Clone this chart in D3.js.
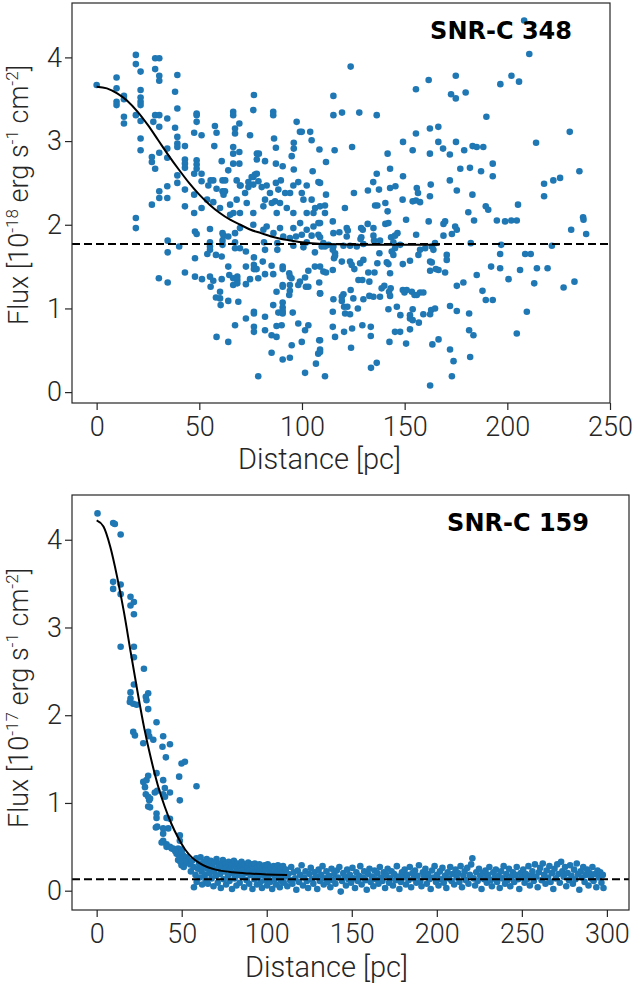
<!DOCTYPE html>
<html><head><meta charset="utf-8">
<script src="https://cdn.jsdelivr.net/npm/d3@7"></script>
<style>body{margin:0;background:#fff}svg{display:block}</style>
</head><body><svg id="c" width="635" height="985"></svg>
<script>
// ---------- DATA ----------
const xTicksTop = [0, 50, 100, 150, 200, 250];
const yTicksTop = [0, 1, 2, 3, 4];
const xTicksBot = [0, 50, 100, 150, 200, 250, 300];
const yTicksBot = [0, 1, 2, 3, 4];
const titleTop = "SNR-C 348";
const titleBot = "SNR-C 159";
const baselineTop = 1.77;
const baselineBot = 0.13;

// fitted profile
const fitTopX = [0,5,10,15,20,25,30,35,40,45,50,55,60,65,70,75,80,85,90,95,100,110,120,140,167];
const fitTopY = [3.65,3.63,3.57,3.48,3.35,3.19,3.01,2.83,2.66,2.50,2.36,2.24,2.14,2.06,2.00,1.94,1.90,1.86,1.83,1.81,1.79,1.77,1.765,1.76,1.76];
const fitBotX = [0,4,8,12,16,20,24,28,32,36,40,44,48,52,56,60,65,70,80,90,100,112];
const fitBotY = [4.22,4.15,3.92,3.58,3.18,2.72,2.27,1.85,1.50,1.20,0.96,0.76,0.60,0.47,0.38,0.32,0.27,0.24,0.21,0.195,0.185,0.18];

// SNR-C 348 points [distance, flux]
const pts348 = [
[0,3.67],[9.7,3.76],[9.7,3.63],[9.7,3.47],[9.7,3.43],[13.3,3.54],[13.3,3.50],[13.3,3.29],[13.3,3.21],[19.1,4.03],[19.1,3.92],[21.4,3.83],[21.4,3.61],[21.4,3.52],[21.4,3.47],[21.4,3.43],[19.1,3.31],[21.4,3.24],[21.4,3.03],[21.4,2.89],
[28.5,3.99],[30.5,3.99],[28.5,3.86],[30.5,3.78],[30.5,3.72],[28.5,3.31],[30.5,3.31],[27.6,3.23],[30.5,3.17],[26.9,2.81],[26.9,2.75],[28.5,2.67],[30.5,2.86],[34.4,3.27],[34.4,2.91],[34.4,2.80],[34.4,2.46],[34.4,2.32],
[38.2,3.59],[39.3,3.79],[39.3,3.39],[38.2,3.16],[39.3,3.05],[39.3,2.97],[39.3,2.93],[39.3,2.59],[39.3,2.50],[43,2.94],[43,2.78],[43,2.73],[43,2.68],[43,2.42],[43,2.22],[30.5,2.40],[30.5,2.32],[26.9,2.24],[19.1,2.08],
[48.7,3.33],[48.7,3.31],[48.7,3.23],[47.5,3.10],[51.1,3.07],[48.7,2.77],[48.7,2.72],[48.7,2.67],[47.5,2.61],[51.1,2.61],[51.1,2.52],[47.5,2.36],[51.1,2.20],[53.8,2.30],[47.5,2.14],
[57.6,3.18],[58.4,3.10],[57.3,2.94],[55.5,2.53],[58.4,2.43],[61.3,2.40],[61.3,2.53],[62.6,2.53],[61.8,2.36],[60.9,2.76],[56.8,2.27],[66.5,3.35],[66.5,3.31],[69.5,3.21],[67.4,3.15],[67.4,3.09],[74.7,3.07],
[66.5,2.93],[66.5,2.85],[69.5,2.87],[66.5,2.73],[69.5,2.73],[64.1,2.65],[68.2,2.53],[70.1,2.47],[76.6,3.55],[76.3,3.37],[78,2.85],[79,2.85],[78,2.78],[82,2.76],[86,3.35],[86,3.31],[86.4,3.03],[87.3,2.92],
[87.3,2.73],[90.6,2.70],[87.3,2.50],[89.7,2.53],[96,2.98],[96,2.91],[95,2.82],[97.4,3.23],[99,3.11],[99.9,3.11],[96,2.66],[104.7,3.01],[105.2,2.64],[108.5,2.90],[104,3.11],
[76.3,2.57],[77.1,2.60],[78.8,2.52],[73.9,2.51],
[54.4,2.47],[56.8,2.53],[62.5,2.40],[65.0,2.24],[66.6,2.14],[68.2,2.30],[69.8,2.47],[72.3,2.38],[73.9,2.45],[73.1,2.26],[75.5,2.57],[78.0,2.61],[76.3,2.48],[80.4,2.45],[82.8,2.47],[82.0,2.30],[84.4,2.38],
[86.9,2.28],[88.5,2.42],[89.3,2.26],[91.8,2.38],[94.2,2.38],[95.8,2.47],[98.2,2.51],[99.9,2.38],[100.7,2.30],[102.3,2.47],[104.7,2.30],[106.4,2.20],[108.0,2.51],[108.8,2.22],[105.6,2.14],[102.3,2.14],[95.8,2.14],
[92.6,2.20],[87.7,2.14],[85.3,2.26],[81.2,2.22],[76.3,2.14],[69.8,2.14],[65.0,2.12],[60.1,2.20],
[67.4,1.90],[69.8,1.96],[76.3,2.00],[81.2,1.94],[82.8,1.98],[86.1,1.90],[89.3,1.96],[90.9,1.86],[95.8,1.96],[99.1,2.02],[102.3,1.94],[105.6,1.98],[108.0,1.88],[108.0,2.02],
[208.2,4.44],[210.7,4.04],[123.7,3.89],[115.3,3.54],[115.3,3.31],[119.5,3.34],[127.9,3.34],[136.4,3.31],[155.5,3.62],[161.7,3.73],[174.9,3.78],[172.6,3.56],[174.9,3.51],[179.7,3.58],[196.6,3.68],[202,3.78],[205.7,3.71],
[189.8,3.29],[230.4,3.11],[214,2.98],[235.1,2.64],[236.9,2.09],[222.4,2.53],[225.7,2.56],[217.9,2.49],[217.9,2.34],[205.2,2.24],[192.9,2.73],[192.9,2.58],[187.2,2.64],[181.8,2.68],[177.1,2.67],
[175,2.99],[179,2.89],[183.1,2.94],[185.1,2.93],[188.3,2.93],[172,2.84],[168.7,2.91],[166.4,2.99],[166.4,3.17],[162.3,3.15],[162.3,2.85],[155.5,3.09],[153.9,2.89],[149.2,2.99],[141.7,2.85],[142.9,2.67],
[149.2,2.58],[136.4,2.61],[134.7,2.51],[132.1,2.41],[137.5,2.42],[142.9,2.44],[145.5,2.46],[155.9,2.44],[156.5,2.38],[155.5,2.29],[162.7,2.48],[162.3,2.34],[172,2.53],[175.4,2.41],[183,2.36],[149,2.30],
[153.9,2.28],[157.5,2.27],[140.6,2.26],[141.7,2.16],[135.6,2.23],[136.7,2.23],[125.3,2.38],[111.7,2.36],[111.2,2.23],[111.2,2.14],[120.9,2.20],[115.9,2.89],[111.7,2.75],[124.4,2.93],[108.8,2.50],[181,2.15],
[189.5,2.22],[190.7,2.18],
[19.1,1.96],[30.3,1.36],[34.6,1.31],[34.6,1.81],[34.6,1.67],[40.2,1.74],[43,1.43],[47.9,1.92],[48.7,1.89],[47.9,1.60],[47.9,1.38],[51.3,1.35],[55.2,1.95],[55.2,1.79],[55.2,1.74],[55.2,1.70],[53.9,1.65],
[58.1,1.64],[60.9,1.62],[55.2,1.38],[55.5,1.26],[56.8,1.33],[61.3,1.90],[61.8,1.87],[61.3,1.81],[61.3,1.76],[60.9,1.35],[60.1,1.20],[58.1,1.13],[60.1,1.12],[60.4,1.04],[58.4,0.66],[64.1,1.86],[64.1,1.50],
[64.1,1.09],[64.1,0.60],[67.4,1.79],[69.8,1.72],[67.4,1.72],[64.6,1.40],[66.5,1.36],[68.5,1.38],[68.5,1.34],[66.5,1.28],[68.5,1.30],[69,1.08],[67.4,0.80],[72.7,1.68],[72.7,1.50],[72.7,1.29],[74.7,1.35],
[72.7,0.88],[76.6,1.61],[76.6,1.52],[76.6,1.47],[77.9,1.47],[76.6,0.96],[76.6,0.94],[76.6,0.78],[76.6,0.72],[78.7,0.19],[78.7,1.36],[80.9,1.56],[81.5,1.79],[82,1.70],[82,1.41],[82,0.90],[82,0.74],
[85.2,1.51],[86,1.41],[86,1.04],[88.5,0.95],[85.2,0.68],[87.6,0.66],[85.2,0.47],[87.6,1.20],[88,1.78],[88,1.70],[90.1,0.80],[87.6,0.79],[90.6,0.39],[90.6,1.50],[90.6,1.47],[90.6,1.28],[90.6,1.26],
[90.6,1.07],[90.6,1.01],[90.6,0.97],[90.6,0.94],[93.8,1.42],[94.1,1.38],[94.9,1.36],[94.1,1.28],[94.1,1.21],[93.8,1.16],[95.5,0.95],[95,0.56],[94.1,0.41],[94.1,1.84],[97.1,1.86],[95.8,1.75],
[99.9,1.88],[100.7,1.73],[102.3,1.79],[104.7,1.87],[98.2,1.28],[99,1.32],[101.5,1.37],[101.9,1.26],[98.2,0.82],[99.9,0.60],[101.5,0.74],[103.1,0.80],[101.5,0.23],[103.1,1.26],[103.1,1.45],[106.3,1.67],
[106.3,1.50],[106.8,0.34],[107.9,0.46],[108.8,0.51],[108.4,0.62],[108.8,1.18],[108.4,1.31],
[108.8,2.02],[115.0,2.04],[121.8,1.96],[122.3,1.93],[128.8,1.96],[129.6,1.94],[132.0,2.01],[134.8,1.96],[140.6,2.01],[142.1,2.02],[150.7,2.06],[161.7,2.04],[168.9,2.01],[169.7,2.04],[174.6,1.98],
[175.4,1.94],[173.0,1.89],[168.9,1.87],[155.6,1.88],[143.4,1.85],[146.5,1.90],[145.3,1.87],[134.8,1.87],[128.9,1.85],[128.5,1.83],[121.8,1.86],[118.2,1.91],[115.3,1.90],[108.8,1.85],[109.6,1.74],
[115.3,1.74],[115.0,1.70],[116.1,1.66],[120.2,1.75],[123.4,1.75],[126.7,1.74],[129.9,1.77],[135.1,1.81],[138.0,1.81],[144.5,1.79],[145.3,1.72],[147.8,1.76],[143.7,1.68],[144.5,1.64],[137.7,1.66],
[136.7,1.54],[141.3,1.55],[142.1,1.53],[142.9,1.42],[149.1,1.53],[152.6,1.57],[156.7,1.64],[157.5,1.70],[160.0,1.72],[163.2,1.74],[164.0,1.70],[164.8,1.78],[170.5,1.64],[170.5,1.58],[166.5,1.46],
[165.2,1.47],[162.4,1.45],[169.7,1.43],[162.4,1.56],[163.2,1.55],[110.4,1.78],[111.2,1.74],[112.9,1.76],[115.6,1.60],[116.1,1.63],[119.4,1.56],[123.4,1.56],[124.2,1.52],[125.5,1.47],[127.5,1.34],
[129.4,1.34],[132.8,1.32],[132.3,1.43],[135.3,1.43],[128.3,1.54],[129.9,1.58],[138.8,1.24],[140.1,1.27],[142.4,1.20],[143.2,1.24],[142.9,1.15],[149.1,1.22],[149.9,1.19],[151.0,1.22],[153.5,1.20],
[154.8,1.16],[157.5,1.19],[155.9,1.16],[159.1,1.19],[138.0,1.14],[134.8,1.14],[132.8,1.15],[129.9,1.11],[125.0,1.12],[123.7,1.22],[120.2,1.17],[119.4,1.14],[119.4,1.09],[115.3,1.11],[115.0,0.96],
[121.0,0.94],[120.5,1.02],[123.4,0.93],[122.1,1.02],[127.2,1.00],[124.4,0.76],[123.9,0.53],[115.0,0.78],[116.1,0.66],[120.5,0.72],[129.4,0.80],[133.5,0.78],[133.5,0.67],[142.1,0.99],[146.2,1.02],
[147.9,0.92],[152.6,0.92],[153.9,0.99],[152.6,0.88],[153.9,0.86],[156.9,0.83],[152.6,0.75],[159.1,0.93],[162.9,0.98],[162.4,0.93],[164.8,1.00],[147.8,0.72],[145.3,0.72],[142.6,0.60],[150.7,0.58],
[163.5,0.57],[166.5,0.63],[172.1,1.03],[175.4,0.97],[172.1,0.51],[173.8,0.37],[173.0,0.19],[162.4,0.08],[133.6,0.29],[136.4,0.35],[111.2,0.19],[108.8,0.62],[108.8,0.48],[108.8,1.50],[110.4,1.44],
[108.8,1.18],[111.7,1.43],[115.0,1.46],[181.4,0.94],[181.4,0.74],[183.5,0.68],[181.9,0.42],[175.4,1.27],[178.6,1.31],[185.1,1.40],[192.1,1.50],[189.5,1.10],[187.9,1.21],[192.9,1.10],[196.5,1.48],
[196.5,1.65],[197.0,1.76],[182.2,1.78],[201.9,2.05],[198.9,2.04],[194.9,2.05],[204.6,2.05],[208.7,1.65],[211.4,1.65],[206.2,1.46],[214.4,1.48],[219.6,1.48],[221.7,1.75],[213.1,1.30],[200.6,1.35],
[209.5,0.96],[204.6,0.70],[227.4,1.25],[232.7,1.32],[231.1,1.94],[238.4,1.89],[237.1,2.06],[183.8,2.05]
];

// SNR-C 159 points [distance, flux]
const pts159Core = [
[0.5,4.30],[9.7,4.19],[10.7,4.18],[14.1,4.06],[9.7,3.52],[9.7,3.44],[14.1,3.49],[14.1,3.38],[19.9,3.35],[19.9,3.25],[21.9,3.29],[21.9,3.15],[14.1,2.78],[21.9,2.78],[21.9,2.66],[27.8,2.53],[21.9,2.35],
[19.9,2.26],[19.9,2.19],[30.3,2.25],[28.9,2.21],[19.5,2.15],[21.5,2.13],[23.5,2.12],[29.3,2.17],[30.3,2.07],[35.2,1.92],[21.5,1.81],[22.5,1.77],[27.4,1.68],[30.3,1.81],[30.9,1.76],[33.3,1.72],
[39.1,1.76],[43.1,1.67],[38.7,1.64],[40.7,1.52],[49.9,1.45],[51.9,1.47],[48.5,1.30],[48.9,1.03],[58.7,1.19],[27.4,1.24],[29.3,1.26],[30.3,1.31],[35.2,1.34],[28.9,1.10],[30.3,1.07],[30.9,1.03],
[34.2,1.12],[35.6,1.14],[39.1,1.26],[40.1,1.17],[39.1,1.10],[43.1,1.12],[30.3,0.96],[35.2,0.88],[35.2,0.83],[35.6,0.73],[34.8,0.72],[41.1,0.83],[43.1,0.82],[42.1,0.71],[39.1,0.71],[39.1,0.65],
[39.1,0.57],[38.2,0.55],[41.1,0.53],[41.1,0.50],[43.1,0.50],[45.0,0.48],[48.9,0.63],[48.9,0.57],[47.9,0.48],[49.9,0.47],[47.0,0.42],[48.9,0.40],[50.9,0.40],[47.9,0.35],[50.5,0.35],[51.9,0.31],
[49.9,0.29],[52.9,0.38],[53.8,0.35],[31.4,0.95],[28.4,1.18],[31.4,1.05],[40.2,1.07],[44.1,0.48],[50,0.44],[52,0.33],[46.2,0.45],[49.2,0.33],[51.2,0.27]
];
const pts159Tail = [
[55.0,0.30],[55.4,0.22],[56.1,0.34],[57.2,0.04],[57.0,0.27],[58.1,0.18],[58.6,0.37],[58.8,0.10],[59.6,0.25],[60.2,0.31],[60.6,0.15],[61.1,0.38],[61.7,0.22],[62.0,0.07],[62.4,0.28],[63.2,0.33],
[63.6,0.18],[64.1,0.12],[64.7,0.36],[65.0,0.25],[65.4,0.08],[66.2,0.30],[66.5,0.20],[67.1,0.34],[67.6,0.14],[68.0,0.27],[68.7,0.05],[69.1,0.22],[69.4,0.32],[70.2,0.17],[70.5,0.36],[71.2,0.09],
[71.5,0.26],[72.1,0.31],[72.6,0.19],[73.0,0.03],[73.4,0.28],[74.2,0.35],[74.6,0.13],[75.0,0.22],[75.7,0.30],[76.1,0.07],[76.4,0.26],[77.2,0.17],[77.6,0.33],[78.1,0.11],[78.4,0.24],[79.2,0.29],
[79.6,0.02],[80.1,0.20],[80.7,0.34],[81.1,0.14],[81.4,0.27],[82.2,0.06],[82.6,0.22],[83.0,0.31],[83.7,0.18],[84.1,0.09],[84.4,0.28],[85.2,0.33],[85.6,0.16],[86.0,0.24],[86.7,0.04],[87.1,0.30],
[87.4,0.20],[88.2,0.12],[88.6,0.27],[89.1,0.32],[89.7,0.08],[90.0,0.23],[90.4,0.18],[91.2,0.30],[91.6,0.02],[92.1,0.25],[92.7,0.13],[93.0,0.31],[93.4,0.20],[94.2,0.07],[94.6,0.27],[95.1,0.15],
[95.7,0.30],[96.0,0.22],[96.4,0.10],[97.2,0.03],[97.6,0.26],[98.0,0.18],[98.7,0.29],[99.1,0.12],[99.4,0.24],[100.2,0.06],[100.6,0.30],[101.1,0.17],[101.7,0.22],[102.0,0.10],[102.4,0.27],[103.2,0.02],
[103.6,0.19],[104.0,0.28],[104.7,0.13],[105.1,0.24],[105.4,0.07],[106.2,0.20],[106.6,0.29],[107.1,0.15],[107.7,0.04],[108.0,0.25],[108.4,0.11],[109.2,0.21],[109.6,0.28],[110.0,0.09],
[110.6,.16],[111.3,.24],[112.1,.05],[112.8,.19],[113.6,.12],[114.4,.27],[115.1,.08],[115.9,.21],[116.7,.14],[117.4,.01],[118.2,.23],[119.0,.10],[119.7,.18],[120.5,.29],[121.3,.06],[122.0,.15],
[122.8,.22],[123.6,.11],[124.3,.03],[125.1,.19],[125.9,.26],[126.6,.13],[127.4,.08],[128.2,.21],[128.9,.16],[129.7,.02],
[130.5,.24],[131.2,.11],[132.0,.18],[132.8,.28],[133.5,.07],[134.3,.14],[135.1,.22],[135.8,.10],[136.6,.17],[137.4,.04],[138.1,.25],[138.9,.12],[139.7,.19],[140.4,.08],[141.2,.23],[142.0,.15],
[142.7,.27],[143.5,-.01],[144.3,.11],[145.0,.20],[145.8,.16],[146.6,.06],[147.3,.24],[148.1,.13],[148.9,.18],[149.6,.09],
[150.4,.26],[151.2,.14],[151.9,.03],[152.7,.21],[153.5,.11],[154.2,.17],[155.0,.28],[155.8,.07],[156.5,.15],[157.3,.22],[158.1,.12],[158.8,.01],[159.6,.19],[160.4,.25],[161.1,.10],[161.9,.16],
[162.7,.05],[163.4,.23],[164.2,.13],[165.0,.20],[165.7,.08],[166.5,.27],[167.3,.15],[168.0,.11],[168.8,.21],[169.6,.03],
[170.3,.18],[171.1,.25],[171.9,.09],[172.6,.14],[173.4,.22],[174.2,.06],[174.9,.19],[175.7,.12],[176.5,.28],[177.2,.16],[178.0,.02],[178.8,.10],[179.5,.21],[180.3,.15],[181.1,.24],[181.8,.07],
[182.6,.18],[183.4,.12],[184.1,.27],[184.9,.04],[185.7,.20],[186.4,.14],[187.2,.23],[188.0,.09],[188.7,.17],[189.5,.29],
[190.3,.11],[191.0,.05],[191.8,.21],[192.6,.16],[193.3,.25],[194.1,.08],[194.9,.19],[195.6,.13],[196.4,.02],[197.2,.23],[197.9,.15],[198.7,.28],[199.5,.10],[200.2,.18],[201.0,.06],[201.8,.22],
[202.5,.13],[203.3,.26],[204.1,.09],[204.8,.17],[205.6,.03],[206.4,.21],[207.1,.14],[207.9,.27],[208.7,.11],[209.4,.19],
[210.2,.07],[211.0,.24],[211.7,.15],[212.5,.20],[213.3,.10],[214.0,.28],[214.8,.04],[215.6,.17],[216.3,.22],[217.1,.12],[217.9,.26],[218.6,.08],[219.4,.18],[220.2,.30],[220.9,.37],[221.7,.14],
[222.5,.06],[223.2,.21],[224.0,.11],[224.8,.25],[225.5,.17],[226.3,.02],[227.1,.20],[227.8,.13],[228.6,.23],[229.4,.09],
[230.1,.18],[230.9,.27],[231.7,.12],[232.4,.05],[233.2,.21],[234.0,.15],[234.7,.24],[235.5,.10],[236.3,.17],[237.0,.03],[237.8,.22],[238.6,.14],[239.3,.28],[240.1,.08],[240.9,.19],[241.6,.12],
[242.4,.25],[243.2,.05],[243.9,.16],[244.7,.21],[245.5,.10],[246.2,.18],[247.0,.27],[247.8,.13],[248.5,.02],[249.3,.20],
[250.1,.15],[250.8,.24],[251.6,.09],[252.4,.19],[253.1,.13],[253.9,.28],[254.7,.06],[255.4,.17],[256.2,.22],[257.0,.11],[257.7,.30],[258.5,.16],[259.3,.04],[260.0,.21],[260.8,.26],[261.6,.12],
[262.3,.31],[263.1,.18],[263.9,.08],[264.6,.23],[265.4,.15],[266.2,.28],[266.9,.10],[267.7,.20],[268.5,.02],[269.2,.25],
[270.0,.14],[270.8,.30],[271.5,.19],[272.3,.09],[273.1,.33],[273.8,.22],[274.6,.16],[275.4,.27],[276.1,.05],[276.9,.20],[277.7,.12],[278.4,.29],[279.2,.17],[280.0,.08],[280.7,.24],[281.5,.13],
[282.3,.31],[283.0,.19],[283.8,.01],[284.6,.22],[285.3,.15],[286.1,.27],[286.9,.10],[287.6,.18],[288.4,.24],[289.2,.06],[289.9,.20],[290.7,.14],[291.5,.27],[292.2,.11],[293.0,.19],[293.8,.04],
[294.5,.23],[295.3,.15],[296.1,.21],[296.8,.09],[297.6,.18],[298.0,.03]
];

// ---------- DRAW ----------
const svg = d3.select("#c");
const INK = "#262626";
const BLUE = "#1f77b4";
const FONT = "Roboto, 'Liberation Sans', Arial, sans-serif";

function panel(cfg) {
  const x = d3.scaleLinear().domain(cfg.xd).range([cfg.l, cfg.r]);
  const y = d3.scaleLinear().domain(cfg.yd).range([cfg.b, cfg.t]);
  const g = svg.append("g");
  const clipId = "clip" + cfg.id;
  svg.append("clipPath").attr("id", clipId).append("rect")
    .attr("x", cfg.l).attr("y", cfg.t).attr("width", cfg.r - cfg.l).attr("height", cfg.b - cfg.t);

  const plot = g.append("g").attr("clip-path", `url(#${clipId})`);
  plot.selectAll("circle").data(cfg.pts).join("circle")
    .attr("cx", d => x(d[0])).attr("cy", d => y(d[1])).attr("r", 3.3)
    .attr("fill", BLUE);

  plot.append("line")
    .attr("x1", cfg.l).attr("x2", cfg.r).attr("y1", y(cfg.base)).attr("y2", y(cfg.base))
    .attr("stroke", "#000").attr("stroke-width", 2).attr("stroke-dasharray", "8,4");

  const fit = cfg.fx.map((v, i) => [v, cfg.fy[i]]);
  plot.append("path").datum(fit)
    .attr("d", d3.line().x(d => x(d[0])).y(d => y(d[1])).curve(d3.curveMonotoneX))
    .attr("fill", "none").attr("stroke", "#000").attr("stroke-width", 2);

  // axes
  const ax = g.append("g").attr("transform", `translate(0,${cfg.b})`)
    .call(d3.axisBottom(x).tickValues(cfg.xt).tickSize(7).tickPadding(7).tickFormat(d3.format("d")));
  const ay = g.append("g").attr("transform", `translate(${cfg.l},0)`)
    .call(d3.axisLeft(y).tickValues(cfg.yt).tickSize(7).tickPadding(3).tickFormat(d3.format("d")));
  [ax, ay].forEach(a => {
    a.select(".domain").remove();
    a.selectAll(".tick line").attr("stroke", INK).attr("stroke-width", 1.2);
    a.selectAll(".tick text").attr("fill", INK)
      .style("font-family", FONT).style("font-weight", "300").style("font-size", "27px");
  });

  g.append("rect").attr("x", cfg.l).attr("y", cfg.t).attr("width", cfg.r - cfg.l).attr("height", cfg.b - cfg.t)
    .attr("fill", "none").attr("stroke", INK).attr("stroke-width", 1.2);

  g.append("text").attr("x", cfg.titleX).attr("y", cfg.titleY).attr("text-anchor", "end")
    .style("font-family", "'DejaVu Sans', sans-serif").style("font-weight", "bold").style("font-size", "24px")
    .attr("fill", "#000").text(cfg.title);

  g.append("text").attr("x", cfg.xlX).attr("y", cfg.xlY)
    .style("font-family", FONT).style("font-weight", "300").style("font-size", "29px")
    .attr("fill", INK).text("Distance [pc]");

  const yl = g.append("text").attr("transform", `translate(28,${cfg.ylY}) rotate(-90)`)
    .style("font-family", FONT).style("font-weight", "300").style("font-size", "27px").attr("fill", INK);
  yl.append("tspan").text("Flux [10");
  yl.append("tspan").attr("dy", -10).style("font-size", "17px").text(cfg.exp);
  yl.append("tspan").attr("dy", 10).text(" erg s");
  yl.append("tspan").attr("dy", -10).style("font-size", "17px").text("-1");
  yl.append("tspan").attr("dy", 10).text(" cm");
  yl.append("tspan").attr("dy", -10).style("font-size", "17px").text("-2");
  yl.append("tspan").attr("dy", 10).text("]");
}

panel({id: "a", xd: [-12, 250], yd: [-0.13, 4.65], l: 72, r: 610, t: 3, b: 403,
  pts: pts348, fx: fitTopX, fy: fitTopY, base: baselineTop, xt: xTicksTop, yt: yTicksTop,
  title: titleTop, titleX: 572, titleY: 39, xlX: 238, xlY: 469, ylY: 325, exp: "-18"});
panel({id: "b", xd: [-14.5, 313], yd: [-0.22, 4.51], l: 72, r: 629, t: 495, b: 910,
  pts: pts159Core.concat(pts159Tail), fx: fitBotX, fy: fitBotY, base: baselineBot, xt: xTicksBot, yt: yTicksBot,
  title: titleBot, titleX: 589, titleY: 531, xlX: 245, xlY: 977, ylY: 828, exp: "-17"});
</script></body></html>
